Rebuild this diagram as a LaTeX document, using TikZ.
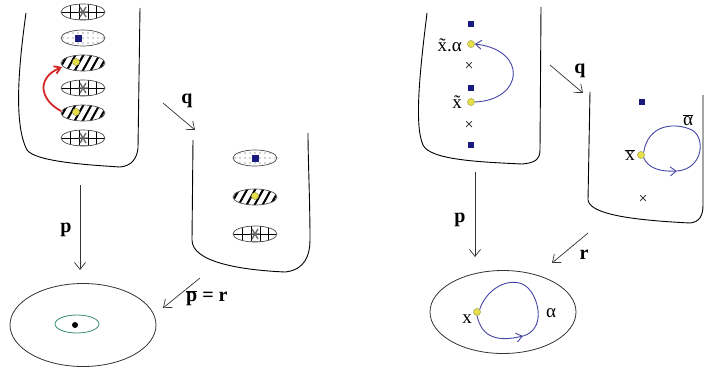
\documentclass[tikz,border=0pt]{standalone}
\usepackage{fontspec}
\setmainfont{Liberation Serif}
\usetikzlibrary{arrows.meta,shapes.geometric}
\definecolor{sqblue}{HTML}{1A1A80}
\definecolor{loopblue}{HTML}{4545A5}
\definecolor{yel}{HTML}{E6E04A}
\definecolor{yelline}{HTML}{A0A040}
\definecolor{tealc}{HTML}{3A8A7A}
\definecolor{redc}{HTML}{D42828}
\begin{document}
\begin{tikzpicture}[x=1pt,y=-1pt,
  blob/.style={draw=black, line width=0.9pt},
  ovl/.style={draw=black!70, line width=0.7pt},
  maparrow/.style={draw=black!80, line width=0.7pt, -{Straight Barb[length=7pt,width=11pt]}},
  maplabel/.style={font=\fontsize{20}{20}\selectfont\bfseries, inner sep=1pt},
  ptlabel/.style={font=\fontsize{19}{19}\selectfont, inner sep=1pt},
  sq/.style={fill=sqblue, minimum size=6pt, inner sep=0pt},
  ydot/.style={circle, fill=yel, draw=yelline, line width=0.5pt, minimum size=7pt, inner sep=0pt},
  xmark/.style={inner sep=0pt, minimum size=6pt,
    path picture={\draw[black!75, line width=1pt] (path picture bounding box.south west) -- (path picture bounding box.north east) (path picture bounding box.north west) -- (path picture bounding box.south east);}},
  gridov/.pic={
    \fill[white] (0,0) ellipse [x radius=22, y radius=8];
    \begin{scope}
      \clip (0,0) ellipse [x radius=22, y radius=8];
      \draw[line width=0.8pt] (-23,0) -- (23,0);
      \foreach \u in {-13,-4,5,13} \draw[line width=0.8pt] (\u,-9) -- (\u,9);
      \draw[black!45, line width=1.4pt] (-5,7.5) -- (9,7.5);
    \end{scope}
    \draw[ovl] (0,0) ellipse [x radius=22, y radius=8];
    \draw[black!60, line width=1.3pt] (-3,-5) -- (3,5) (3,-5) -- (-3,5) (-5,0) -- (5,0);
  },
  hatchov/.pic={
    \fill[white] (0,0) ellipse [x radius=22, y radius=8];
    \begin{scope}
      \clip (0,0) ellipse [x radius=22, y radius=8];
      \foreach \u in {-28,-20,...,28} \draw[line width=2pt] (\u-5,9) -- (\u+5,-9);
    \end{scope}
    \draw[ovl] (0,0) ellipse [x radius=22, y radius=8];
  },
  dotov/.pic={
    \fill[white] (0,0) ellipse [x radius=22, y radius=8];
    \begin{scope}
      \clip (0,0) ellipse [x radius=22, y radius=8];
      \foreach \u in {-20,-15,...,20} \foreach \v in {-5,0,5} \fill[black!70] (\u,\v) circle [radius=0.7];
    \end{scope}
    \draw[ovl] (0,0) ellipse [x radius=22, y radius=8];
  }
]
\useasboundingbox (0,0) rectangle (705,367);

% ---------------- LEFT HALF ----------------
% top-left blob
\draw[blob] (26,13) .. controls (18,70) and (14,125) .. (27,150)
  .. controls (36,162) and (90,165) .. (120,167)
  .. controls (132,166) and (137,158) .. (138,148) -- (140,8);
\pic at (83,12) {gridov};
\pic at (83,38) {dotov};
\node[sq, minimum size=7pt] (lsq) at (78,38) {};
\pic at (83,63) {hatchov};
\node[ydot] (ly1) at (76,62) {};
\pic at (83,88) {gridov};
\pic at (83,113) {hatchov};
\node[ydot] (ly2) at (76,112) {};
\pic at (83,138) {gridov};
\coordinate (rs) at (61,111);
\coordinate (re) at (62,67);
\draw[redc, line width=1.8pt, -{Straight Barb[length=6pt,width=8pt]}] (rs) .. controls (40,100) and (36,78) .. (re);

% middle blob
\draw[blob] (193,140) -- (192,240) .. controls (192,262) and (240,270) .. (285,272)
  .. controls (305,270) and (310,255) .. (310,240) .. controls (310,200) and (308,160) .. (308,133);
\pic at (255,158) {dotov};
\node[sq, minimum size=7pt] (msq) at (255,158) {};
\pic at (255,197) {hatchov};
\node[ydot] (my) at (255,196) {};
\pic at (255,234) {gridov};

% bottom-left base
\node[draw=black!80, line width=0.8pt, ellipse, minimum width=146pt, minimum height=83pt, inner sep=0pt] (lbase) at (83,325) {};
\draw[tealc, line width=0.8pt] (77,324) ellipse [x radius=22, y radius=9];
\node[circle, fill=black, minimum size=6pt, inner sep=0pt] (ldot) at (75,325) {};

% left arrows
\coordinate (lq1) at (163,103);
\coordinate (lq2) at (195,130);
\draw[maparrow] (lq1) -- (lq2);
\node[maplabel] (lqlab) at (187,101) {q};
\coordinate (lp1) at (80,185);
\coordinate (lp2) at (80,270);
\draw[maparrow] (lp1) -- (lp2);
\node[maplabel] (lplab) at (66,230) {p};
\coordinate (lr1) at (200,278);
\coordinate (lr2) at (163,308);
\draw[maparrow] (lr1) -- (lr2);
\node[maplabel, anchor=west] (lrlab) at (185,298) {\(\overline{\mbox{p}}\) = r};

% ---------------- RIGHT HALF ----------------
% top-right blob
\draw[blob] (427,13) .. controls (420,70) and (414,125) .. (423,145)
  .. controls (430,160) and (480,162) .. (522,164)
  .. controls (534,163) and (540,160) .. (540,150) -- (541,7);
\node[sq] (rs1) at (471,24) {};
\node[ydot] (ry1) at (471,44) {};
\node[xmark] (rx1) at (469,65) {};
\node[sq] (rs2) at (471,88) {};
\node[ydot] (ry2) at (471,102) {};
\node[xmark] (rx2) at (469,124) {};
\node[sq] (rs3) at (471,145) {};
\node[ptlabel, anchor=east] (lxa) at (463,45) {x̃.α};
\node[ptlabel, anchor=east] (lxt) at (463,102) {x̃};
\draw[loopblue, line width=0.9pt, -{Straight Barb[length=6pt,width=9pt]}] (ry2.east) .. controls (524,100) and (528,50) .. (ry1.east);

% right middle blob
\draw[blob] (590,92) -- (588,200) .. controls (590,214) and (630,220) .. (690,223)
  .. controls (700,222) and (703,215) .. (703,205) -- (703,95);
\node[sq] (rms) at (642,102) {};
\node[ydot] (rmy) at (641,155) {};
\node[xmark] (rmx) at (643,198) {};
\node[ptlabel, anchor=east] (lxbar) at (636,155) {\(\overline{\mbox{x}}\)};
\node[ptlabel] (labar) at (688,120) {\(\overline{\mbox{α}}\)};
\coordinate (mla) at (677,171);
\draw[loopblue, line width=0.9pt, -{Straight Barb[length=6pt,width=9pt]}] (rmy.south east) .. controls (648,168) and (660,172) .. (mla);
\draw[loopblue, line width=0.9pt] (mla) .. controls (703,169) and (706,138) .. (692,130)
  .. controls (675,122) and (648,124) .. (rmy.north east);

% bottom-right base
\node[draw=black!80, line width=0.8pt, ellipse, minimum width=146pt, minimum height=83pt, inner sep=0pt] (rbase) at (503,312) {};
\node[ydot] (by) at (477,312) {};
\node[ptlabel, anchor=east] (lx) at (473,319) {x};
\node[ptlabel] (lal) at (551,313) {α};
\coordinate (bla) at (523,336);
\draw[loopblue, line width=0.9pt, -{Straight Barb[length=6pt,width=9pt]}] (by.south) .. controls (482,338) and (498,342) .. (bla);
\draw[loopblue, line width=0.9pt] (bla) .. controls (545,330) and (540,300) .. (528,288)
  .. controls (515,275) and (488,285) .. (by.north east);

% right arrows
\coordinate (rq1) at (550,65);
\coordinate (rq2) at (583,93);
\draw[maparrow] (rq1) -- (rq2);
\node[maplabel] (rqlab) at (580,71) {q};
\coordinate (rp1) at (475,172);
\coordinate (rp2) at (475,257);
\draw[maparrow] (rp1) -- (rp2);
\node[maplabel] (rplab) at (460,220) {p};
\coordinate (rr1) at (588,233);
\coordinate (rr2) at (552,263);
\draw[maparrow] (rr1) -- (rr2);
\node[maplabel] (rrlab) at (584,255) {r};
\end{tikzpicture}
\end{document}
